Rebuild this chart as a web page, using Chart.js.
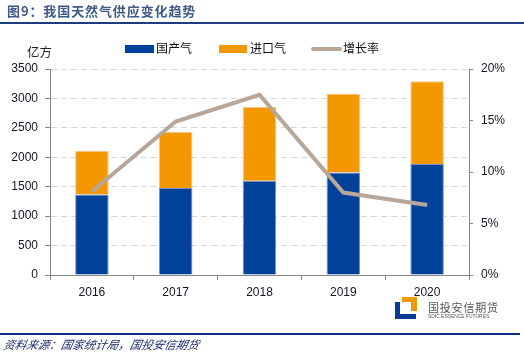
<!DOCTYPE html>
<html>
<head>
<meta charset="utf-8">
<script src="https://cdn.jsdelivr.net/npm/chart.js@4"></script>
<style>
  html, body { margin: 0; padding: 0; background: #fff; }
  #wrap { position: relative; width: 524px; height: 355px; overflow: hidden; font-family: "Liberation Sans", Arial, "Noto Sans CJK SC", sans-serif; }
  #c { position: absolute; left: 0; top: 0; }
  .abs { position: absolute; white-space: nowrap; }
  #title { left: 7px; top: 2px; font-family: "Noto Sans CJK SC", sans-serif; font-size: 13px; font-weight: bold; color: #3f5a8a; letter-spacing: 0.9px; line-height: 17px; }
  #topline { left: 0; top: 22px; width: 524px; height: 1.5px; background: #1f3c80; }
  #botline { left: 0; top: 333px; width: 520px; height: 2px; background: #0c2f8f; }
  #source { left: 2px; top: 337px; font-family: "Noto Sans CJK SC", sans-serif; font-size: 11.5px; font-style: italic; color: #1d2f70; letter-spacing: 0px; line-height: 15px; transform: skewX(-12deg); transform-origin: left bottom; }
  #unit { left: 27px; top: 44px; font-family: "Noto Sans CJK SC", sans-serif; font-size: 12.5px; color: #222; line-height: 16px; }
  .leg { font-family: "Noto Sans CJK SC", sans-serif; font-size: 12px; color: #111; line-height: 14px; top: 41px; }
  .sw { position: absolute; }
  #logoText1 { left: 428px; top: 301px; font-family: "Noto Sans CJK SC", sans-serif; font-size: 11px; color: #555; letter-spacing: 0.8px; line-height: 12px; }
  #logoText2 { left: 428px; top: 313px; font-family: "Liberation Sans", Arial, sans-serif; font-size: 6px; color: #555; line-height: 6px; transform: scaleX(0.82); transform-origin: left top; }
</style>
</head>
<body>
<div id="wrap">
  <canvas id="c" width="524" height="355"></canvas>
  <div class="abs" id="title">图9：我国天然气供应变化趋势</div>
  <div class="abs" id="topline"></div>
  <div class="abs" id="unit">亿方</div>
  <div class="sw" style="left:125px;top:45px;width:29px;height:8px;background:#004299;"></div>
  <div class="abs leg" style="left:156px;">国产气</div>
  <div class="sw" style="left:219px;top:45px;width:28px;height:8px;background:#f39800;"></div>
  <div class="abs leg" style="left:250px;">进口气</div>
  <div class="sw" style="left:311px;top:46.5px;width:31px;height:4px;background:#b8a699;border-radius:2px;"></div>
  <div class="abs leg" style="left:343px;">增长率</div>
  <!-- logo -->
  <div class="sw" style="left:395px;top:302px;width:5px;height:17px;background:#0a3c96;"></div>
  <div class="sw" style="left:395px;top:314px;width:21px;height:5px;background:#0a3c96;"></div>
  <div class="sw" style="left:402px;top:297px;width:15px;height:5px;background:#f39800;"></div>
  <div class="sw" style="left:411px;top:297px;width:6px;height:14px;background:#f39800;"></div>
  <div class="abs" id="logoText1">国投安信期货</div>
  <div class="abs" id="logoText2">SDIC ESSENCE FUTURES</div>
  <div class="abs" id="botline"></div>
  <div class="abs" id="source">资料来源：国家统计局，国投安信期货</div>
</div>
<script>
const categories = ['2016', '2017', '2018', '2019', '2020'];
const domesticGas = [1369, 1480, 1603, 1740, 1888];
const importedGas = [740, 950, 1250, 1340, 1405];
const growthRate = [8.1, 14.9, 17.5, 8.0, 6.8];
const leftTicks = [0, 500, 1000, 1500, 2000, 2500, 3000, 3500];
const rightTicks = ['0%', '5%', '10%', '15%', '20%'];

const axisGray = '#868686';
const tickFont = { family: '"Liberation Sans", Arial, sans-serif', size: 12 };
const tickColor = '#141428';

new Chart(document.getElementById('c'), {
  type: 'bar',
  data: {
    labels: categories,
    datasets: [
      {
        type: 'line', label: '增长率', data: growthRate, yAxisID: 'y1', order: 0,
        borderColor: '#b8a699', borderWidth: 4, pointRadius: 0, tension: 0, fill: false
      },
      {
        label: '国产气', data: domesticGas, backgroundColor: '#004299', borderColor: '#7d8fc0',
        borderWidth: 1, borderSkipped: 'bottom', stack: 's', order: 1, yAxisID: 'y',
        barPercentage: 0.4, categoryPercentage: 1
      },
      {
        label: '进口气', data: importedGas, backgroundColor: '#f39800', borderColor: '#f7c48a',
        borderWidth: 1, borderSkipped: 'bottom', stack: 's', order: 1, yAxisID: 'y',
        barPercentage: 0.4, categoryPercentage: 1
      }
    ]
  },
  options: {
    responsive: false,
    animation: false,
    devicePixelRatio: 1,
    layout: { padding: { top: 69, left: 0, right: 0, bottom: 0 } },
    plugins: { legend: { display: false }, tooltip: { enabled: false }, title: { display: false } },
    scales: {
      x: {
        stacked: true,
        offset: true,
        grid: { display: true, drawOnChartArea: false, drawTicks: true, tickLength: 5, tickColor: axisGray, offset: true },
        border: { display: true, color: axisGray, width: 1 },
        ticks: { font: tickFont, color: tickColor, padding: 5, maxRotation: 0 },
        afterFit: s => { s.height = 80; }
      },
      y: {
        position: 'left',
        stacked: true,
        min: 0, max: 3500,
        afterBuildTicks: s => { s.ticks = leftTicks.map(v => ({ value: v })); },
        grid: { color: '#d6d6d6', lineWidth: 1, drawTicks: true, tickLength: 5, tickColor: axisGray, tickBorderDash: [] },
        border: { display: true, color: axisGray, width: 1, dash: [6, 4] },
        ticks: { font: tickFont, color: tickColor, padding: 7, callback: (v, i) => String(leftTicks[i]) },
        afterFit: s => { s.width = 50; }
      },
      y1: {
        position: 'right',
        min: 0, max: 20,
        afterBuildTicks: s => { s.ticks = [0, 5, 10, 15, 20].map(v => ({ value: v })); },
        grid: { drawOnChartArea: false, drawTicks: true, tickLength: 4, tickColor: axisGray },
        border: { display: true, color: axisGray, width: 1 },
        ticks: { font: tickFont, color: tickColor, padding: 8, callback: (v, i) => rightTicks[i] },
        afterFit: s => { s.width = 55; }
      }
    }
  }
});
</script>
</body>
</html>
